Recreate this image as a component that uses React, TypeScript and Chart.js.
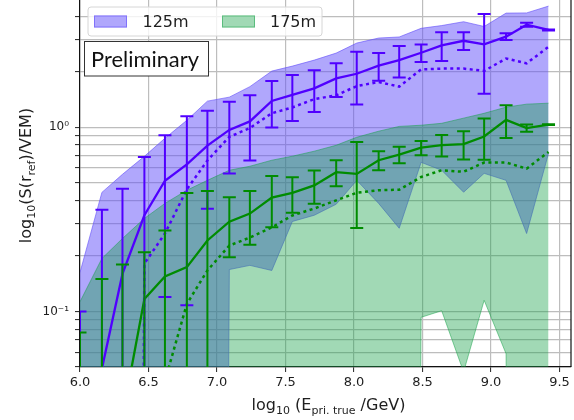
import React, { useEffect, useRef } from 'react';
import { Chart, registerables } from 'chart.js';

// ---------------- data ----------------
const energies = [6.0, 6.16, 6.31, 6.47, 6.62, 6.78, 6.93, 7.09, 7.24, 7.4, 7.55, 7.71, 7.87, 8.02, 8.18, 8.33, 8.49, 8.64, 8.8, 8.95, 9.11, 9.26, 9.42];

const mean125 = [0.03, 0.049, 0.16, 0.333, 0.5125, 0.628, 0.794, 0.9665, 1.075, 1.388, 1.499, 1.625, 1.84, 1.95, 2.158, 2.31, 2.535, 2.78, 2.945, 2.815, 3.1, 3.6, 3.37];
const err125 = [0.07, 0.308, 0.304, 0.357, 0.3925, 0.52, 0.433, 0.4065, 0.415, 0.392, 0.419, 0.415, 0.38, 0.62, 0.373, 0.45, 0.275, 0.49, 0.325, 1.295, 0.13, 0.09, 0.02];
const median125 = [0, 0, 0, 0.182, 0.265, 0.46, 0.66, 0.886, 0.99, 1.19, 1.28, 1.42, 1.49, 1.67, 1.76, 1.66, 2.06, 2.08, 2.08, 2.02, 2.36, 2.22, 2.73];
const bandHi125 = [0.163, 0.443, 0.555, 0.695, 0.871, 1.09, 1.385, 1.456, 1.66, 2.016, 2.145, 2.312, 2.524, 2.861, 3.046, 3.087, 3.44, 3.56, 3.735, 3.52, 4.16, 4.17, 4.54];
const bandLo125 = [0, 0, 0, 0, 0, 0, 0, 0.169, 0.178, 0.167, 0.308, 0.333, 0.382, 0.515, 0.386, 0.283, 0.645, 0.584, 0.444, 0.562, 0.515, 0.265, 0.722];

const mean175 = [0.01, 0.02, 0.027, 0.117, 0.155, 0.174, 0.243, 0.307, 0.34, 0.415, 0.44, 0.483, 0.57, 0.558, 0.662, 0.71, 0.774, 0.8, 0.81, 0.89, 1.096, 0.99, 1.034];
const err175 = [0.067, 0.13, 0.153, 0.093, 0.12, 0.266, 0.207, 0.11, 0.11, 0.128, 0.096, 0.099, 0.092, 0.274, 0.078, 0.073, 0.069, 0.107, 0.142, 0.224, 0.221, 0.046, 0.005];
const median175 = [0, 0, 0, 0, 0.042, 0.11, 0.167, 0.228, 0.252, 0.286, 0.332, 0.362, 0.401, 0.441, 0.455, 0.458, 0.537, 0.584, 0.573, 0.643, 0.643, 0.596, 0.734];
const bandHi175 = [0.113, 0.194, 0.249, 0.32, 0.386, 0.455, 0.515, 0.584, 0.614, 0.662, 0.696, 0.741, 0.798, 0.882, 0.951, 1.01, 1.025, 1.05, 1.12, 1.19, 1.285, 1.334, 1.35];
const bandLo175 = [0, 0, 0, 0, 0, 0, 0, 0, 0, 0, 0, 0, 0, 0, 0, 0, 0.093, 0.101, 0.047, 0.115, 0.059, 0, 0];

const seriesLabels = ['125m', '175m'];
const xTicks = [6.0, 6.5, 7.0, 7.5, 8.0, 8.5, 9.0, 9.5];
const yTicks = [0.05, 0.06, 0.07, 0.08, 0.09, 0.1, 0.2, 0.3, 0.4, 0.5, 0.6, 0.7, 0.8, 0.9, 1, 2, 3, 4];
const yTickLabels: Record<string, string> = { '0.1': '10\u207B\u00B9', '1': '10\u2070' };
const annotationText = 'Preliminary';

// ---------------- styles ----------------
const BLUE = '#5000ff';
const GREEN = '#008c00';
const PURPLE_FILL = 'rgba(98,79,250,0.5)';
const PURPLE_EDGE = 'rgba(98,79,250,0.6)';
const GREEN_FILL = 'rgba(20,160,70,0.4)';
const GREEN_EDGE = 'rgba(20,160,70,0.5)';
const GRID = '#bdbdbd';
const TEXT = '#1e1e1e';
const FONT = '"DejaVu Sans", sans-serif';
const CAP = 6.5;

// matplotlib-like clipping of non-positive values on a log axis
const TINY = 1e-20;
const pts = (ys: number[]) => energies.map((x, i) => ({ x, y: ys[i] > 0 ? ys[i] : TINY }));

Chart.register(...registerables);

type Seg = { t: string; sub?: boolean };
function drawRich(ctx: CanvasRenderingContext2D, segs: Seg[], size: number, subSize: number, subShift: number) {
  let w = 0;
  const widths: number[] = [];
  for (const s of segs) {
    ctx.font = `${s.sub ? subSize : size}px ${FONT}`;
    const m = ctx.measureText(s.t).width;
    widths.push(m);
    w += m;
  }
  let x = -w / 2;
  ctx.textAlign = 'left';
  ctx.textBaseline = 'alphabetic';
  segs.forEach((s, i) => {
    ctx.font = `${s.sub ? subSize : size}px ${FONT}`;
    ctx.fillText(s.t, x, s.sub ? subShift : 0);
    x += widths[i];
  });
}

const bgPlugin = {
  id: 'whiteBg',
  beforeDraw(chart: any) {
    const { ctx, width, height } = chart;
    ctx.save();
    ctx.fillStyle = '#ffffff';
    ctx.fillRect(0, 0, width, height);
    ctx.restore();
  },
};

const errorBarPlugin = {
  id: 'errorBars',
  afterDatasetsDraw(chart: any) {
    const { ctx, chartArea: a, scales } = chart;
    const xs = scales.x;
    const ys = scales.y;
    const series = [
      { mean: mean125, err: err125, color: BLUE },
      { mean: mean175, err: err175, color: GREEN },
    ];
    ctx.save();
    ctx.beginPath();
    ctx.rect(a.left, a.top, a.right - a.left, a.bottom - a.top);
    ctx.clip();
    for (const s of series) {
      ctx.strokeStyle = s.color;
      ctx.lineWidth = 2;
      ctx.lineCap = 'butt';
      s.mean.forEach((m, i) => {
        const px = xs.getPixelForValue(energies[i]);
        const hi = m + s.err[i];
        const lo = m - s.err[i];
        const pyHi = ys.getPixelForValue(hi);
        const pyLo = lo > 0 ? ys.getPixelForValue(lo) : a.bottom + 20;
        ctx.beginPath();
        ctx.moveTo(px, pyHi);
        ctx.lineTo(px, pyLo);
        ctx.moveTo(px - CAP, pyHi);
        ctx.lineTo(px + CAP, pyHi);
        if (lo > 0) {
          ctx.moveTo(px - CAP, pyLo);
          ctx.lineTo(px + CAP, pyLo);
        }
        ctx.stroke();
      });
    }
    ctx.restore();
  },
};

const overlayPlugin = {
  id: 'overlay',
  afterDraw(chart: any) {
    const { ctx, chartArea: a } = chart;
    ctx.save();
    // right spine
    ctx.strokeStyle = '#111';
    ctx.lineWidth = 1.2;
    ctx.beginPath();
    ctx.moveTo(a.right, a.top);
    ctx.lineTo(a.right, a.bottom);
    ctx.stroke();

    // legend
    const lx = 88, ly = 7, lw = 234, lh = 29, r = 3;
    ctx.beginPath();
    ctx.moveTo(lx + r, ly);
    ctx.lineTo(lx + lw - r, ly);
    ctx.quadraticCurveTo(lx + lw, ly, lx + lw, ly + r);
    ctx.lineTo(lx + lw, ly + lh - r);
    ctx.quadraticCurveTo(lx + lw, ly + lh, lx + lw - r, ly + lh);
    ctx.lineTo(lx + r, ly + lh);
    ctx.quadraticCurveTo(lx, ly + lh, lx, ly + lh - r);
    ctx.lineTo(lx, ly + r);
    ctx.quadraticCurveTo(lx, ly, lx + r, ly);
    ctx.closePath();
    ctx.fillStyle = 'rgba(255,255,255,0.8)';
    ctx.fill();
    ctx.strokeStyle = '#d6d6d6';
    ctx.lineWidth = 1;
    ctx.stroke();

    const items = [
      { px: 94, tx: 142.5, fill: PURPLE_FILL, edge: PURPLE_EDGE, label: seriesLabels[0] },
      { px: 222, tx: 270, fill: GREEN_FILL, edge: GREEN_EDGE, label: seriesLabels[1] },
    ];
    for (const it of items) {
      ctx.fillStyle = '#ffffff';
      ctx.fillRect(it.px, 15.5, 33, 12);
      ctx.fillStyle = it.fill;
      ctx.fillRect(it.px, 15.5, 33, 12);
      ctx.strokeStyle = it.edge;
      ctx.lineWidth = 1;
      ctx.strokeRect(it.px + 0.5, 16, 32, 11);
      ctx.fillStyle = TEXT;
      ctx.font = `16px ${FONT}`;
      ctx.textAlign = 'left';
      ctx.textBaseline = 'alphabetic';
      ctx.fillText(it.label, it.tx, 27.3);
    }

    // Preliminary box
    ctx.fillStyle = '#ffffff';
    ctx.fillRect(84.5, 41.5, 124, 34.5);
    ctx.strokeStyle = '#333';
    ctx.lineWidth = 1;
    ctx.strokeRect(84.5, 41.5, 124, 34.5);
    ctx.font = '22px Lato, "Liberation Sans", sans-serif';
    const mw = ctx.measureText(annotationText).width;
    const fs = (22 * 108) / mw;
    ctx.font = `${fs}px Lato, "Liberation Sans", sans-serif`;
    ctx.fillStyle = '#111';
    ctx.textAlign = 'left';
    ctx.textBaseline = 'alphabetic';
    ctx.fillText(annotationText, 91, 66.7);

    // axis titles
    ctx.fillStyle = TEXT;
    ctx.save();
    ctx.translate(328.5, 410);
    drawRich(ctx, [{ t: 'log' }, { t: '10', sub: true }, { t: ' (E' }, { t: 'pri. true', sub: true }, { t: ' /GeV)' }], 16, 11, 4);
    ctx.restore();
    ctx.save();
    ctx.translate(31, 175.5);
    ctx.rotate(-Math.PI / 2);
    drawRich(ctx, [{ t: 'log' }, { t: '10', sub: true }, { t: '(S(r' }, { t: 'ref', sub: true }, { t: ')/VEM)' }], 16, 11, 4);
    ctx.restore();
    ctx.restore();
  },
};

export default function App() {
  const ref = useRef<HTMLCanvasElement>(null);
  useEffect(() => {
    if (!ref.current) return;
    const lineBase = { pointRadius: 0, pointHoverRadius: 0, tension: 0 };
    const chart = new Chart(ref.current, {
      type: 'line',
      data: {
        datasets: [
          { ...lineBase, label: 'band125hi', data: pts(bandHi125), fill: '+1', backgroundColor: PURPLE_FILL, borderColor: PURPLE_EDGE, borderWidth: 1, order: 100 },
          { ...lineBase, label: 'band125lo', data: pts(bandLo125), fill: false, borderColor: PURPLE_EDGE, borderWidth: 1, order: 99 },
          { ...lineBase, label: 'band175hi', data: pts(bandHi175), fill: '+1', backgroundColor: GREEN_FILL, borderColor: GREEN_EDGE, borderWidth: 1, order: 98 },
          { ...lineBase, label: 'band175lo', data: pts(bandLo175), fill: false, borderColor: GREEN_EDGE, borderWidth: 1, order: 97 },
          { ...lineBase, label: 'median125', data: pts(median125), fill: false, borderColor: BLUE, borderWidth: 2.5, borderDash: [3, 3.5], order: 10 },
          { ...lineBase, label: 'mean125', data: pts(mean125), fill: false, borderColor: BLUE, borderWidth: 2.3, order: 9 },
          { ...lineBase, label: 'median175', data: pts(median175), fill: false, borderColor: GREEN, borderWidth: 2.5, borderDash: [3, 3.5], order: 8 },
          { ...lineBase, label: 'mean175', data: pts(mean175), fill: false, borderColor: GREEN, borderWidth: 2.3, order: 7 },
        ] as any,
      },
      options: {
        responsive: false,
        maintainAspectRatio: false,
        devicePixelRatio: 1,
        animation: false,
        events: [],
        layout: { padding: { left: 0, right: 3, top: 0, bottom: 0 } },
        plugins: {
          legend: { display: false },
          tooltip: { enabled: false },
          title: { display: false },
        },
        scales: {
          x: {
            type: 'linear',
            min: 6,
            max: 9.584,
            afterBuildTicks: (s: any) => {
              s.ticks = xTicks.map((v) => ({ value: v }));
            },
            afterFit: (s: any) => {
              s.height = 53;
              s.paddingLeft = 0;
              s.paddingRight = 0;
            },
            ticks: {
              autoSkip: false,
              maxRotation: 0,
              padding: 3,
              color: TEXT,
              font: { family: 'DejaVu Sans', size: 13 },
              callback: (v: any) => Number(v).toFixed(1),
            },
            grid: { color: GRID, lineWidth: 1.2, tickLength: 5, tickColor: '#222', tickWidth: 1 },
            border: { display: true, color: '#111', width: 1.2 },
          },
          y: {
            type: 'logarithmic',
            min: 0.05,
            max: 4.9,
            afterBuildTicks: (s: any) => {
              s.ticks = yTicks.map((v) => ({ value: v, major: v === 1 || v === 0.1 }));
            },
            afterFit: (s: any) => {
              s.width = 80;
              s.paddingTop = 0;
              s.paddingBottom = 0;
            },
            ticks: {
              autoSkip: false,
              padding: 6,
              color: TEXT,
              font: { family: 'DejaVu Sans', size: 12 },
              callback: (v: any) => yTickLabels[String(Number(Number(v).toPrecision(6)))] || '',
            },
            grid: { color: GRID, lineWidth: 1.2, tickLength: 5, tickColor: '#222', tickWidth: 1 },
            border: { display: true, color: '#111', width: 1.2 },
          },
        },
      } as any,
      plugins: [bgPlugin, errorBarPlugin, overlayPlugin] as any,
    });
    return () => chart.destroy();
  }, []);
  return (
    <div style={{ position: 'absolute', left: 0, top: 0, width: 574, height: 420 }}>
      <canvas ref={ref} width={574} height={420} style={{ display: 'block', width: 574, height: 420 }} />
    </div>
  );
}
